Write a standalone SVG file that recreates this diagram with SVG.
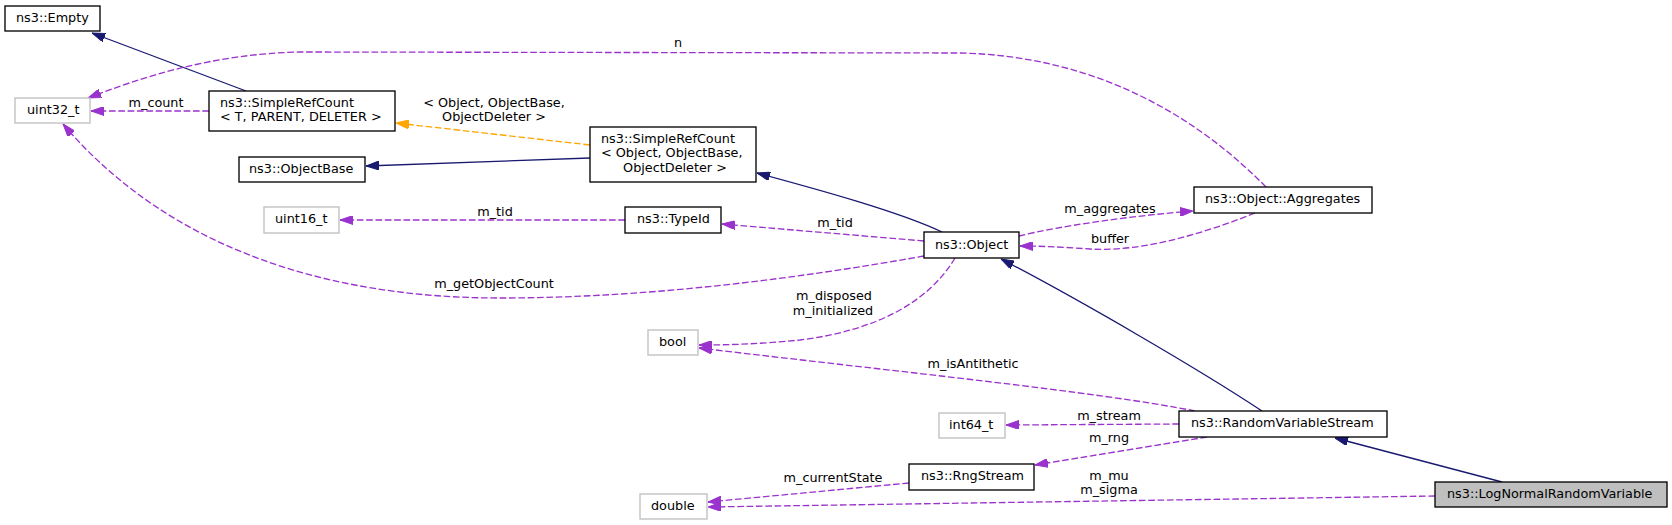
<svg xmlns="http://www.w3.org/2000/svg" width="1672" height="525" viewBox="0 0 1672 525">
<style>
text{font-family:"DejaVu Sans","Liberation Sans",sans-serif;font-size:12.8px;fill:#000}
.c text{text-anchor:middle}
.n rect{fill:#fff;stroke:#000;stroke-width:1.33}
.n.g rect{stroke:#bfbfbf}
.n.h rect{fill:#bfbfbf;stroke:#000}
.inh{fill:none;stroke:#191970;stroke-width:1.33}
.use{fill:none;stroke:#9a32cd;stroke-width:1.33;stroke-dasharray:6.67,2.67}
.tpl{fill:none;stroke:#ffa500;stroke-width:1.33;stroke-dasharray:6.67,2.67}
</style>
<defs>
<marker id="aN" viewBox="0 0 13 9" refX="13" refY="4.5" markerWidth="13" markerHeight="9" markerUnits="userSpaceOnUse" orient="auto"><path d="M0,0L13,4.5L0,9z" fill="#191970" stroke="#191970"/></marker>
<marker id="aP" viewBox="0 0 13 9" refX="13" refY="4.5" markerWidth="13" markerHeight="9" markerUnits="userSpaceOnUse" orient="auto"><path d="M0,0L13,4.5L0,9z" fill="#9a32cd" stroke="#9a32cd"/></marker>
<marker id="aO" viewBox="0 0 13 9" refX="13" refY="4.5" markerWidth="13" markerHeight="9" markerUnits="userSpaceOnUse" orient="auto"><path d="M0,0L13,4.5L0,9z" fill="#ffa500" stroke="#ffa500"/></marker>
</defs>
<rect width="1672" height="525" fill="#fff"/>
<g id="edges" class="c">
<path class="inh" d="M246,91 L92,33" marker-end="url(#aN)"/>
<path class="use" d="M209,111 L91,111" marker-end="url(#aP)"/>
<text x="156" y="107">m_count</text>
<path class="use" d="M1266,187 C1200,120 1100,56 960,53 L300,52 C210,54 140,78 88,98" marker-end="url(#aP)"/>
<text x="678" y="47">n</text>
<path class="tpl" d="M590,145 L396,123" marker-end="url(#aO)"/>
<text x="494" y="107">&lt; Object, ObjectBase,</text>
<text x="494" y="121">ObjectDeleter &gt;</text>
<path class="inh" d="M590,158 L366,166" marker-end="url(#aN)"/>
<path class="inh" d="M942,232 C900,212 820,190 757,173" marker-end="url(#aN)"/>
<path class="use" d="M625,220 L340,220" marker-end="url(#aP)"/>
<text x="495" y="216">m_tid</text>
<path class="use" d="M924,241 L722,224" marker-end="url(#aP)"/>
<text x="835" y="227">m_tid</text>
<path class="use" d="M1019,236 C1060,226 1130,216 1193,211" marker-end="url(#aP)"/>
<text x="1110" y="213">m_aggregates</text>
<path class="use" d="M1255,213 C1200,235 1140,252 1090,249 C1060,247 1040,246 1020,246" marker-end="url(#aP)"/>
<text x="1110" y="243">buffer</text>
<path class="use" d="M924,256 C800,278 650,298 500,298 C330,298 170,250 63,124" marker-end="url(#aP)"/>
<text x="494" y="288">m_getObjectCount</text>
<path class="use" d="M955,258 C930,300 880,330 800,340 C760,344 730,345 699,345" marker-end="url(#aP)"/>
<text x="834" y="300">m_disposed</text>
<text x="833" y="315">m_initialized</text>
<path class="inh" d="M1262,411 C1200,370 1080,300 1001,259" marker-end="url(#aN)"/>
<path class="use" d="M1195,411 C1100,392 900,372 699,348" marker-end="url(#aP)"/>
<text x="973" y="368">m_isAntithetic</text>
<path class="use" d="M1179,424 L1006,425" marker-end="url(#aP)"/>
<text x="1109" y="420">m_stream</text>
<path class="use" d="M1207,437 L1035,465" marker-end="url(#aP)"/>
<text x="1109" y="442">m_rng</text>
<path class="use" d="M909,483 L708,502" marker-end="url(#aP)"/>
<text x="833" y="482">m_currentState</text>
<path class="inh" d="M1502,482 L1335,438" marker-end="url(#aN)"/>
<path class="use" d="M1435,496 L708,507" marker-end="url(#aP)"/>
<text x="1109" y="480">m_mu</text>
<text x="1109" y="494">m_sigma</text>
</g>
<g id="n_empty" class="n"><rect x="5" y="6" width="95" height="25"/><text x="16" y="22">ns3::Empty</text></g>
<g id="n_uint32" class="n g"><rect x="15" y="98" width="75" height="25"/><text x="27" y="114">uint32_t</text></g>
<g id="n_src_t" class="n"><rect x="209" y="91" width="186" height="40"/><text x="220" y="107">ns3::SimpleRefCount</text><text x="220" y="121">&lt; T, PARENT, DELETER &gt;</text></g>
<g id="n_objbase" class="n"><rect x="239" y="157" width="126" height="25"/><text x="249" y="173">ns3::ObjectBase</text></g>
<g id="n_src_obj" class="n"><rect x="590" y="127" width="166" height="55"/><text x="601" y="143">ns3::SimpleRefCount</text><text x="601" y="157">&lt; Object, ObjectBase,</text><text x="675" y="172" text-anchor="middle">ObjectDeleter &gt;</text></g>
<g id="n_uint16" class="n g"><rect x="264" y="207" width="75" height="26"/><text x="275" y="223">uint16_t</text></g>
<g id="n_typeid" class="n"><rect x="625" y="207" width="96" height="26"/><text x="637" y="223">ns3::TypeId</text></g>
<g id="n_object" class="n"><rect x="924" y="232" width="95" height="26"/><text x="935" y="249">ns3::Object</text></g>
<g id="n_aggr" class="n"><rect x="1194" y="187" width="178" height="26"/><text x="1205" y="203">ns3::Object::Aggregates</text></g>
<g id="n_bool" class="n g"><rect x="648" y="330" width="50" height="25"/><text x="659" y="346">bool</text></g>
<g id="n_int64" class="n g"><rect x="939" y="413" width="66" height="25"/><text x="949" y="429">int64_t</text></g>
<g id="n_rvs" class="n"><rect x="1179" y="411" width="208" height="26"/><text x="1191" y="427">ns3::RandomVariableStream</text></g>
<g id="n_rng" class="n"><rect x="909" y="464" width="125" height="26"/><text x="921" y="480">ns3::RngStream</text></g>
<g id="n_double" class="n g"><rect x="640" y="494" width="67" height="25"/><text x="651" y="510">double</text></g>
<g id="n_lognormal" class="n h"><rect x="1435" y="482" width="232" height="25"/><text x="1447" y="498">ns3::LogNormalRandomVariable</text></g>
</svg>
